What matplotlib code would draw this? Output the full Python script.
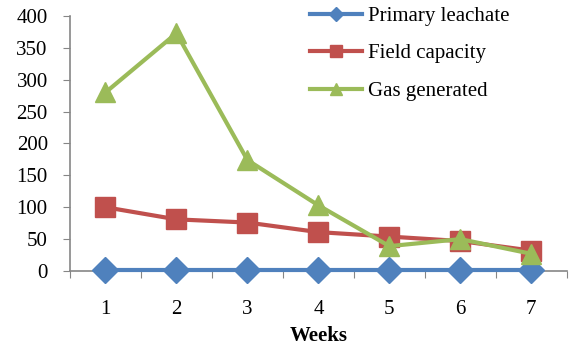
import numpy as np
import matplotlib.pyplot as plt
from matplotlib.ticker import FixedLocator, NullFormatter

# data
weeks = [1, 2, 3, 4, 5, 6, 7]
primary_leachate = [1, 1, 1, 1, 1, 1, 1]
field_capacity = [100, 81, 76, 61, 54, 47, 32]
gas_generated = [280, 373, 174, 103, 39, 50, 27]

plt.rcParams['font.family'] = ['Liberation Serif', 'DejaVu Serif']

fig = plt.figure(figsize=(5.71, 3.47), dpi=100)
ax = fig.add_axes([0.1226, 0.219, 0.870, 0.735])

ax.plot(weeks, primary_leachate, color='#4F81BD', lw=3, marker='D', ms=13,
        label='Primary leachate', clip_on=False, zorder=3)
ax.plot(weeks, field_capacity, color='#C0504D', lw=3, marker='s', ms=15,
        label='Field capacity', clip_on=False, zorder=3)
ax.plot(weeks, gas_generated, color='#9BBB59', lw=3, marker='^', ms=15,
        label='Gas generated', clip_on=False, zorder=3)

ax.set_xlim(0.5, 7.5)
ax.set_ylim(0, 400)
ax.set_yticks(np.arange(0, 401, 50))

# category style x axis: ticks between categories, labels at centers
ax.xaxis.set_major_locator(FixedLocator(np.arange(0.5, 7.6, 1)))
ax.xaxis.set_major_formatter(NullFormatter())
ax.xaxis.set_minor_locator(FixedLocator(weeks))
ax.set_xticklabels([str(w) for w in weeks], minor=True)
ax.tick_params(axis='x', which='minor', length=0, pad=21, labelsize=15)
ax.tick_params(axis='x', which='major', length=5, color='#868686', direction='out')
ax.tick_params(axis='y', length=5, color='#868686', labelsize=15, pad=11)

for s in ['top', 'right']:
    ax.spines[s].set_visible(False)
for s in ['left', 'bottom']:
    ax.spines[s].set_color('#868686')
    ax.spines[s].set_linewidth(1.2)

ax.set_xlabel('Weeks', fontsize=15, fontweight='bold', labelpad=5)

leg = ax.legend(loc='upper left', bbox_to_anchor=(310 / 571, 0.982),
                bbox_transform=fig.transFigure, frameon=False,
                fontsize=15, labelspacing=0.86, handlelength=2.5,
                handletextpad=0.3, borderpad=0, borderaxespad=0,
                markerscale=0.55)

fig.savefig('out.png', dpi=100)
